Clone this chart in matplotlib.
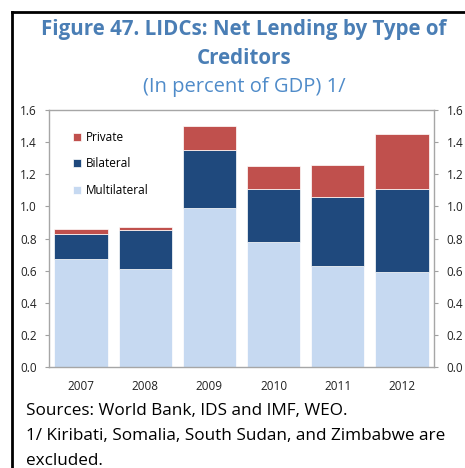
import matplotlib
matplotlib.use("Agg")
import matplotlib.pyplot as plt
from matplotlib.lines import Line2D
import numpy as np

years = ["2007", "2008", "2009", "2010", "2011", "2012"]
multilateral = [0.67, 0.61, 0.99, 0.78, 0.63, 0.59]
bilateral = [0.16, 0.24, 0.36, 0.33, 0.43, 0.52]
private = [0.03, 0.02, 0.15, 0.14, 0.20, 0.34]
yticks = [0.0, 0.2, 0.4, 0.6, 0.8, 1.0, 1.2, 1.4, 1.6]

plt.rcParams['font.family'] = ['Open Sans', 'DejaVu Sans']

W, H = 465, 468
fig = plt.figure(figsize=(W/100, H/100), dpi=100)
ax = fig.add_axes([49/W, 1-367/H, (434-49)/W, (367-110)/H])

x = np.arange(len(years))
c_multi = "#C6D9F1"
c_bil = "#1F497D"
c_priv = "#C0504D"
bw = 0.83
m = np.array(multilateral); b = np.array(bilateral); p = np.array(private)
ax.bar(x, m, bw, color=c_multi, label="Multilateral", edgecolor="white", linewidth=0.5)
ax.bar(x, b, bw, bottom=m, color=c_bil, label="Bilateral", edgecolor="white", linewidth=0.5)
ax.bar(x, p, bw, bottom=m+b, color=c_priv, label="Private", edgecolor="white", linewidth=0.5)

ax.set_xlim(-0.5, len(years)-0.5)
ax.set_ylim(0, 1.6)
ax.set_yticks(yticks)
ax.set_yticklabels([f"{v:.1f}" for v in yticks])
ax.set_xticks(x)
ax.set_xticklabels(years)
ax.tick_params(axis='y', which='both', left=True, right=True, labelleft=True, labelright=True,
               direction='out', length=3, color='#A0A0A0', labelsize=8.5, labelcolor='#222222', pad=6)
ax.tick_params(axis='x', length=0, labelsize=8.5, labelcolor='#222222', pad=9)
for s in ax.spines.values():
    s.set_color('#A6A6A6')
    s.set_linewidth(1.0)

handles, labels = ax.get_legend_handles_labels()
leg = ax.legend(handles[::-1], labels[::-1], loc='upper left', bbox_to_anchor=(0.035, 0.96),
                frameon=False, fontsize=8.5, handlelength=0.7, handleheight=0.7,
                labelspacing=1.15, handletextpad=0.35)

fig.text(244/W, 1-30/H, "Figure 47. LIDCs: Net Lending by Type of", ha='center', va='center',
         fontsize=14.8, fontweight='bold', color='#4A7EB5')
fig.text(244/W, 1-58/H, "Creditors", ha='center', va='center',
         fontsize=14.8, fontweight='bold', color='#4A7EB5')
fig.text(244/W, 1-87/H, "(In percent of GDP) 1/", ha='center', va='center',
         fontsize=14.5, color='#4F8BC9')

foot = ["Sources: World Bank, IDS and IMF, WEO.",
        "1/ Kiribati, Somalia, South Sudan, and Zimbabwe are",
        "excluded."]
for i, t in enumerate(foot):
    fig.text(26/W, 1-(411+25*i)/H, t, ha='left', va='center', fontsize=12.3, color='black')

fig.add_artist(Line2D([12/W, 1], [1-12/H, 1-12/H], color='black', linewidth=2, transform=fig.transFigure))
fig.add_artist(Line2D([12/W, 12/W], [1-12/H, 0], color='black', linewidth=2, transform=fig.transFigure))

fig.savefig("out.png", dpi=100)
